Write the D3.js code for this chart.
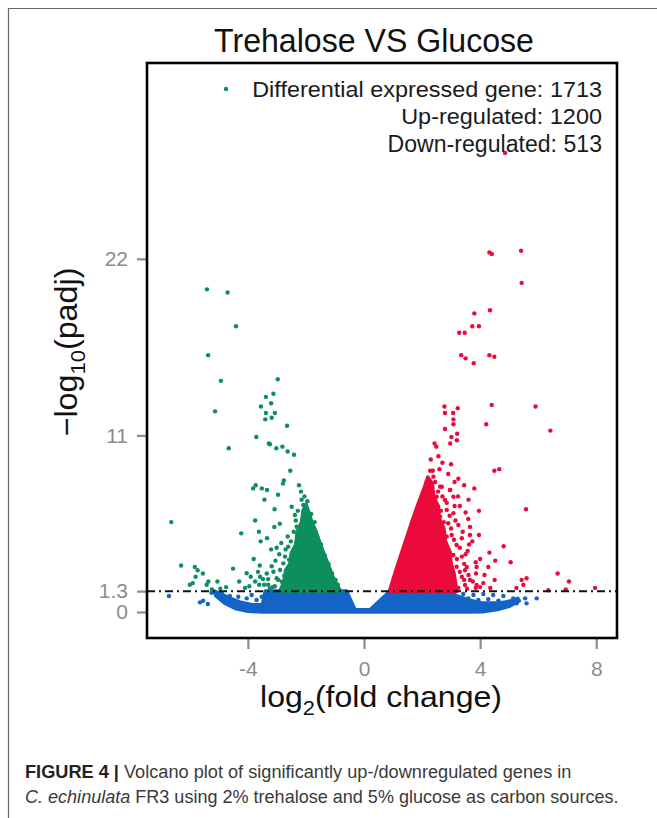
<!DOCTYPE html>
<html><head><meta charset="utf-8">
<script src="https://cdn.jsdelivr.net/npm/d3@7"></script>
<style>
body{margin:0;background:#fff}
svg{display:block}
text{font-family:"Liberation Sans", Arial, Helvetica, sans-serif}
</style></head>
<body><svg id="c" width="657" height="818"></svg>
<script>
// ---------- data ----------
const titleText = "Trehalose VS Glucose";
const legendLines = ["Differential expressed gene: 1713", "Up-regulated: 1200", "Down-regulated: 513"];
const xTicks = [-4, 0, 4, 8];
const yTicks = [0, 1.3, 11, 22];
const yTickLabels = ["0", "1.3", "11", "22"];
const padjThreshold = 1.3;
const xDomain = [-7.475, 8.715];
const yDomain = [-1.62, 34.2];

// down-regulated genes (green), individually visible points [log2FC, -log10 padj]
const downGenes = [
 [-5.41,20.1],[-4.70,19.9],[-4.41,17.8],[-5.37,16.0],[-4.93,14.4],[-2.97,14.5],[-5.13,12.5],[-4.66,10.2],
 [-3.38,13.4],[-3.12,13.6],[-3.55,12.8],[-3.20,13.0],[-3.38,12.4],[-3.07,12.4],[-3.40,12.0],[-3.18,12.1],
 [-2.65,11.6],[-3.71,10.9],[-3.28,10.5],[-3.24,10.45],[-3.02,10.2],[-2.81,10.3],[-2.63,10.0],[-2.41,9.8],
 [-2.54,8.8],[-2.76,8.2],[-2.79,8.0],[-3.82,7.7],[-3.73,7.9],[-3.52,7.7],[-3.34,7.6],[-2.24,7.9],[-2.17,7.5],
 [-3.43,7.0],[-2.96,7.3],[-3.08,6.4],[-6.64,5.6],[-3.75,5.7],[-4.23,4.9],[-3.62,5.0],[-3.09,5.3],[-2.90,5.5],
 [-3.34,4.6],[-3.56,4.4],[-3.20,3.9],[-3.01,4.0],[-2.63,4.7],[-6.30,2.9],[-5.83,2.8],[-5.73,2.6],[-5.80,2.2],
 [-5.90,1.8],[-6.00,1.7],[-5.36,1.9],[-5.42,1.7],[-4.51,2.7],[-3.59,2.9],[-3.90,2.2],[-3.75,1.9],[-3.61,1.7],
 [-3.44,1.7],[-3.30,1.7],[-3.07,1.6],[-5.24,1.4],[-3.58,2.2],
 [-2.49,6.56],[-2.38,6.04],[-2.32,5.31],[-2.09,6.67],[-1.97,5.84],[-1.86,5.42],[-1.75,4.90],[-2.20,4.69],
 [-2.61,4.07],[-2.44,3.66],[-2.72,3.45],[-2.78,3.03],[-2.55,2.82],[-2.89,2.62],[-2.66,2.41],[-3.12,2.51],
 [-3.01,2.10],[-2.83,1.89],[-2.61,1.68],[-3.24,1.47],[-2.38,1.47],[-2.20,3.24],[-2.26,4.07],[-2.03,3.66],
 [-1.92,4.38],[-1.63,4.07],[-1.52,3.45],[-1.40,2.82],[-1.29,2.41],[-1.11,1.89],[-1.00,1.58],[-4.04,2.41],
 [-3.30,2.05],[-3.18,2.85],[-3.05,3.2],[-2.95,2.0],[-2.92,3.6],[-2.85,4.3],[-2.75,2.25],[-2.70,3.9],
 [-2.68,1.75],[-2.58,3.25],[-2.52,4.4],[-2.47,2.2],[-2.42,5.0],[-2.35,5.7],[-2.30,4.4],[-2.28,6.3],
 [-2.15,7.0],[-2.05,7.2],[-1.95,6.9],[-1.82,6.1],[-1.70,5.6],[-1.60,4.6],[-1.48,4.2],[-1.35,3.5],
 [-1.22,3.0],[-1.10,2.4],[-0.98,2.0],[-0.90,1.7],[-3.15,1.55],[-3.35,2.4],[-3.48,2.05],[-3.65,2.5],
 [-3.80,3.3],[-3.95,1.6],[-4.10,1.5],[-4.30,1.9],[-4.75,1.55],[-4.95,1.45],[-5.05,1.9],[-5.55,2.4]
];
// dense core of the down-regulated genes (outline of the solid green wedge)
const downCore = [[-2.9,1.3],[-2.75,1.9],[-2.7,2.6],[-2.55,3.0],[-2.5,3.7],[-2.35,4.2],[-2.3,5.0],[-2.15,5.6],
 [-2.1,6.3],[-2.0,6.7],[-1.9,6.2],[-1.8,5.6],[-1.65,5.0],[-1.5,4.2],[-1.35,3.5],[-1.2,2.8],[-1.05,2.1],[-0.9,1.6],[-0.8,1.3]];

// up-regulated genes (red)
const upGenes = [
 [4.32,22.4],[4.40,22.3],[5.41,22.5],[5.43,20.5],[4.34,18.8],[3.80,18.6],[3.73,17.8],[3.96,17.8],[3.28,17.4],
 [3.47,17.4],[3.35,16.0],[3.50,15.8],[3.78,15.5],[4.32,16.0],[4.49,15.9],
 [2.77,12.8],[3.23,12.7],[4.40,12.9],[5.91,12.8],[2.79,12.4],[3.07,12.4],[3.08,12.0],[3.08,11.7],[2.79,11.4],
 [3.21,11.1],[3.20,10.7],[3.01,10.9],[2.97,10.5],[4.21,11.7],[6.42,11.3],
 [2.43,10.5],[2.49,10.3],[2.56,9.7],[2.30,9.5],[2.28,8.8],[2.37,8.8],[4.49,8.8],[4.66,8.9],[3.80,7.7],[5.58,6.4],
 [3.96,6.3],[3.12,8.1],[2.68,7.8],[2.97,7.6],[3.24,7.2],[3.12,6.6],
 [3.59,5.8],[3.65,5.3],[3.65,4.8],[3.96,4.8],[3.73,4.4],[3.62,4.2],[3.57,3.8],[4.32,3.7],[4.81,4.1],[4.52,3.2],
 [5.05,3.1],[4.28,2.8],[3.88,2.8],[3.86,2.4],[3.54,2.8],[3.48,2.6],[4.11,1.8],[5.43,2.0],[5.60,2.1],[5.49,1.7],
 [6.67,2.4],[7.06,1.9],[6.35,1.35],[6.95,1.4],[7.96,1.5],[5.25,1.5],[3.85,1.5],[3.25,1.5],[4.86,28.6],
 [2.16,8.12],[2.33,7.81],[2.62,7.81],[2.96,7.60],[2.50,7.18],[2.79,6.98],[3.08,7.18],[2.56,6.56],[2.85,6.36],
 [3.08,6.15],[2.62,5.94],[2.45,5.73],[2.90,5.53],[3.25,5.42],[3.37,4.59],[2.73,5.00],[3.02,4.80],[3.19,4.17],
 [2.85,4.07],[3.08,3.55],[3.37,3.45],[2.79,3.24],[3.19,2.82],[2.96,2.41],[3.37,2.20],[3.65,1.99],[3.13,1.79],
 [3.48,1.68],[2.85,1.58],[3.88,1.68],[2.39,8.43],
 [2.45,8.1],[2.55,7.5],[2.7,7.2],[2.85,6.8],[2.65,6.3],[2.95,6.0],[2.75,5.6],[3.0,5.2],[3.15,5.7],[2.85,4.7],
 [3.1,4.5],[3.3,4.0],[2.95,3.7],[3.2,3.3],[3.45,3.0],[3.0,2.9],[3.3,2.5],[3.6,2.3],[3.1,2.2],[3.45,2.0],
 [3.75,1.9],[3.2,1.5],[3.55,1.45],[4.0,1.55],[4.35,1.5],[4.5,2.0],[4.15,2.3],[4.0,3.3],[3.85,3.1],[3.5,3.6],
 [3.4,5.0],[3.5,6.2],[3.3,6.6],[3.6,7.0],[3.45,7.9],[3.25,8.3],[2.9,8.6],[2.6,8.9],[2.7,9.3],[3.0,9.2]
];
const upCore = [[0.88,1.3],[1.1,2.6],[1.3,3.7],[1.5,4.8],[1.7,5.9],[1.9,6.9],[2.05,7.6],[2.2,8.4],[2.35,8.0],
 [2.4,7.2],[2.55,6.6],[2.6,5.8],[2.75,5.2],[2.8,4.4],[2.95,3.8],[3.0,3.0],[3.1,2.4],[3.15,1.8],[3.2,1.3]];

// not significant genes (blue)
const nsGenes = [
 [-6.72,1.0],[-5.65,0.60],[-5.54,0.70],[-5.38,0.50],[-5.25,1.20],[-4.90,1.17],[-4.62,1.00],[-4.33,0.95],
 [-4.04,0.85],[-3.87,1.06],[-3.70,0.75],[-3.52,0.95],[-3.41,0.54],
 [3.08,1.06],[3.25,0.75],[3.42,1.12],[3.59,0.85],[3.77,1.06],[3.94,0.75],[4.11,1.12],[4.28,0.79],[4.45,1.06],
 [4.63,0.71],[4.80,1.00],[4.97,0.64],[5.14,0.85],[5.26,0.54],[5.55,0.85],[5.60,0.54],[5.95,0.85],[3.37,0.44]
];
const nsCore = [
 [-5.15,1.3],[-4.9,1.1],[-4.6,0.85],[-4.25,0.6],[-3.85,0.45],[-3.5,0.45],[-3.4,1.3],[-0.6,1.3],[-0.31,0.14],
 [0.21,0.14],[0.9,1.3],[2.95,1.3],[3.2,1.0],[3.6,0.75],[4.1,0.55],[4.6,0.55],[5.0,0.65],[5.3,0.85],
 [5.35,0.7],[5.0,0.35],[4.6,0.15],[4.1,0.02],[3.5,0.0],[-3.5,0.0],[-4.0,0.05],[-4.4,0.2],[-4.8,0.55],[-5.1,1.0]
];

// ---------- drawing ----------
const colDown = "#0c8f5c", colUp = "#ec0a3a", colNs = "#1463c6";
const svg = d3.select("#c");
svg.append("rect").attr("width",657).attr("height",818).attr("fill","#fff");
svg.append("path").attr("d","M8.5,818V8.5H657").attr("fill","none").attr("stroke","#666").attr("stroke-width",1.2);

const P = {l:147, r:617, t:63, b:638};
const x = d3.scaleLinear().domain(xDomain).range([P.l, P.r]);
const y = d3.scaleLinear().domain(yDomain).range([P.b, P.t]);

function addText(px, py, parts, o){
  const g = svg.append("g");
  const t = g.append("text").attr("font-size", o.size).attr("fill", o.fill || "#000")
    .attr("text-anchor", o.anchor || "start");
  let pend = 0;
  parts.forEach(p => {
    const s = t.append("tspan").text(p.t);
    let dy = pend; pend = 0;
    if (p.sub){ s.attr("font-size", o.size*0.68); dy += o.size*0.26; pend = -o.size*0.26; }
    if (dy) s.attr("dy", dy);
    if (p.bold) s.attr("font-weight","bold");
    if (p.italic) s.attr("font-style","italic");
    if (p.fill) s.attr("fill", p.fill);
  });
  const k = o.target ? o.target / t.node().getComputedTextLength() : 1;
  g.attr("transform", `translate(${px},${py})` + (o.rotate ? ` rotate(${o.rotate})` : "") + ` scale(${k},1)`);
  return g;
}

// title
addText(374, 52, [{t:titleText}], {size:33, anchor:"middle", fill:"#111", target:320});

// clip
svg.append("clipPath").attr("id","clip").append("rect")
  .attr("x",P.l).attr("y",P.t).attr("width",P.r-P.l).attr("height",P.b-P.t);
const plot = svg.append("g").attr("clip-path","url(#clip)");

const line = d3.line().x(d => x(d[0])).y(d => y(d[1])).curve(d3.curveLinearClosed);
function core(data, c){
  plot.append("path").attr("d", line(data)).attr("fill", c).attr("stroke", c)
    .attr("stroke-width", 3.6).attr("stroke-linejoin","round");
}
function pts(data, c){
  plot.append("g").selectAll("circle").data(data).join("circle")
    .attr("cx", d => x(d[0])).attr("cy", d => y(d[1])).attr("r", 2.2).attr("fill", c);
}
core(nsCore, colNs); pts(nsGenes, colNs);
core(downCore, colDown); pts(downGenes, colDown);
core(upCore, colUp); pts(upGenes, colUp);

// threshold line
plot.append("line").attr("x1",P.l).attr("x2",P.r).attr("y1",y(padjThreshold)).attr("y2",y(padjThreshold))
  .attr("stroke","#111").attr("stroke-width",2).attr("stroke-dasharray","8,4,2,4");

// legend
svg.append("circle").attr("cx",226).attr("cy",89).attr("r",2.2).attr("fill",colDown);
const legW = [350, 201, 214.5];
legendLines.forEach((s,i) => addText(602, 96.5 + i*27.5, [{t:s}], {size:23, anchor:"end", fill:"#1a1a1a", target:legW[i]}));

// axes
const tickCol = "#8c8c8c";
const ax = svg.append("g").attr("transform",`translate(0,${P.b})`)
  .call(d3.axisBottom(x).tickValues(xTicks).tickSize(11).tickPadding(12).tickFormat(d3.format("d")));
const ay = svg.append("g").attr("transform",`translate(${P.l},0)`)
  .call(d3.axisLeft(y).tickValues(yTicks).tickSize(10).tickPadding(9).tickFormat((d,i) => yTickLabels[i]));
[ax, ay].forEach(a => {
  a.select(".domain").remove();
  a.selectAll(".tick line").attr("stroke", tickCol).attr("stroke-width", 2.2);
  a.selectAll(".tick text").attr("fill", tickCol).attr("font-size", 21)
    .attr("font-family", "'Liberation Sans', Arial, sans-serif");
});
ax.selectAll(".tick text").text(d => d < 0 ? "-" + Math.abs(d) : d);

// panel border
svg.append("rect").attr("x",P.l).attr("y",P.t).attr("width",P.r-P.l).attr("height",P.b-P.t)
  .attr("fill","none").attr("stroke","#000").attr("stroke-width",2.6);

// axis titles
addText(381, 707, [{t:"log"},{t:"2",sub:true},{t:"(fold change)"}], {size:30, anchor:"middle", fill:"#111", target:242});
addText(77, 352, [{t:"\u2212log"},{t:"10",sub:true},{t:"(padj)"}], {size:31, anchor:"middle", fill:"#111", target:169, rotate:-90});

// caption
addText(25, 778, [{t:"FIGURE 4 | ", bold:true, fill:"#222"},{t:"Volcano plot of significantly up-/downregulated genes in"}],
  {size:19, fill:"#3a3a3a", target:547});
addText(25, 803, [{t:"C. echinulata", italic:true},{t:" FR3 using 2% trehalose and 5% glucose as carbon sources."}],
  {size:19, fill:"#3a3a3a", target:594});
</script></body></html>
